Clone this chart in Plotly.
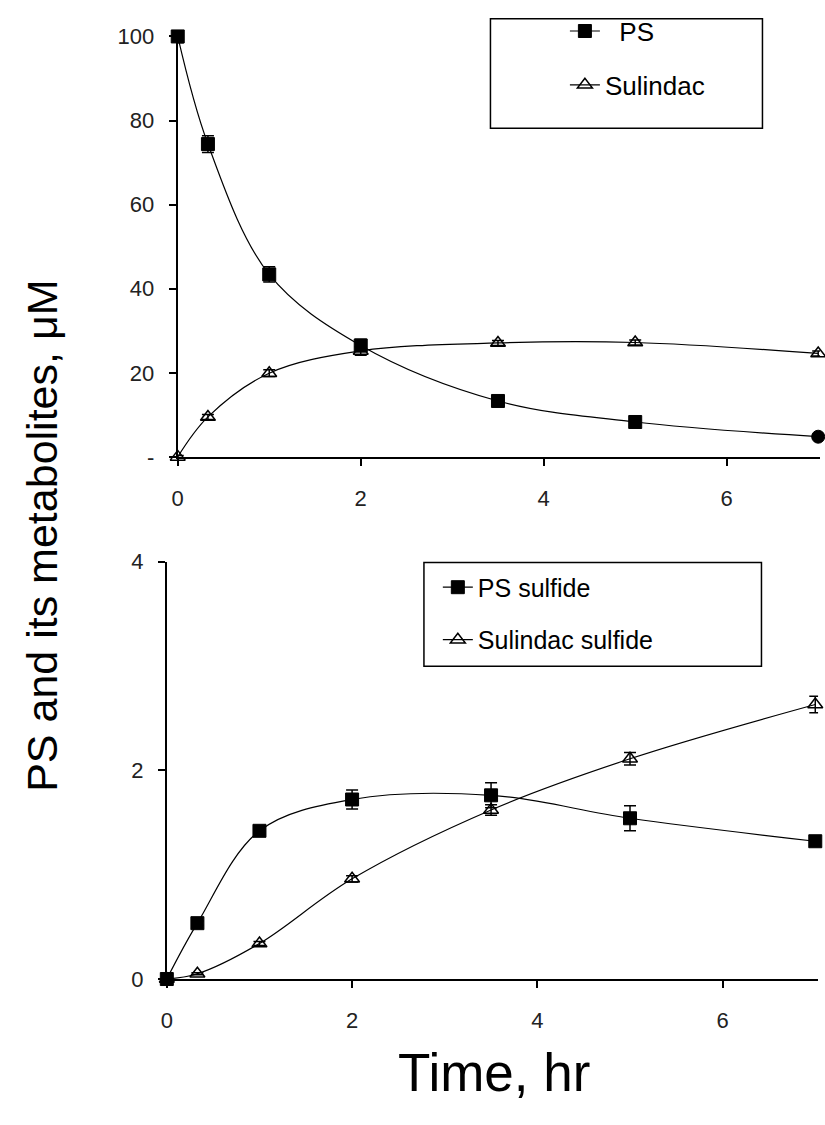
import plotly.graph_objects as go

# Sampling times (hr)
time_hr = [0, 0.33, 1, 2, 3.5, 5, 7]

# Upper panel: parent compound and sulindac (uM)
ps = [100, 74.4, 43.4, 26.5, 13.3, 8.3, 4.8]
ps_err = [1.5, 2.0, 1.8, 1.5, 0.8, 0.6, 0.5]
sulindac = [0, 9.5, 19.9, 25.2, 27.1, 27.2, 24.6]
sulindac_err = [0.3, 0.6, 0.8, 1.0, 0.6, 0.6, 0.6]

# Lower panel: sulfide metabolites (uM)
ps_sulfide = [0, 0.535, 1.42, 1.72, 1.76, 1.54, 1.32]
ps_sulfide_err = [0.02, 0.02, 0.03, 0.09, 0.12, 0.12, 0.03]
sulindac_sulfide = [0, 0.05, 0.34, 0.96, 1.62, 2.11, 2.63]
sulindac_sulfide_err = [0.01, 0.01, 0.02, 0.03, 0.05, 0.06, 0.08]

top_yticks = [0, 20, 40, 60, 80, 100]
top_yticklabels = ["-", "20", "40", "60", "80", "100"]
bottom_yticks = [0, 2, 4]
xticks = [0, 2, 4, 6]

W, H = 825, 1125
FONT = "Arial, Liberation Sans, sans-serif"


def px_x(p):
    return p / W


def px_y(p):
    return 1 - p / H


def err(vals):
    return dict(type="data", array=vals, visible=True, color="black",
                thickness=1.5, width=6)


square = dict(symbol="square", size=13, color="black",
              line=dict(color="black", width=1))
triangle = dict(symbol="triangle-up-open", size=13, color="black",
                line=dict(color="black", width=1.5))
line = dict(color="black", width=1.2, shape="spline", smoothing=1.0)

fig = go.Figure()

fig.add_trace(go.Scatter(
    x=time_hr, y=ps, error_y=err(ps_err), mode="lines+markers",
    name="  PS", line=line,
    marker=dict(square, symbol=["square"] * 6 + ["circle"]),
    xaxis="x", yaxis="y", legend="legend", legendgroup="a", cliponaxis=False))
fig.add_trace(go.Scatter(
    x=time_hr, y=sulindac, error_y=err(sulindac_err), mode="lines+markers",
    name="Sulindac", line=line, marker=triangle,
    xaxis="x", yaxis="y", legend="legend", legendgroup="b", cliponaxis=False))

fig.add_trace(go.Scatter(
    x=time_hr, y=ps_sulfide, error_y=err(ps_sulfide_err), mode="lines+markers",
    name="PS sulfide", line=line, marker=square,
    xaxis="x2", yaxis="y2", legend="legend2", legendgroup="c", cliponaxis=False))
fig.add_trace(go.Scatter(
    x=time_hr, y=sulindac_sulfide, error_y=err(sulindac_sulfide_err),
    mode="lines+markers", name="Sulindac sulfide", line=line, marker=triangle,
    xaxis="x2", yaxis="y2", legend="legend2", legendgroup="d", cliponaxis=False))

axis_common = dict(
    showline=True, linecolor="black", linewidth=2, ticks="outside",
    ticklen=7, tickwidth=2, tickcolor="black", showgrid=False, zeroline=False,
    tickfont=dict(family=FONT, size=22, color="#222"), mirror=False,
)
x_common = dict(axis_common, tickvals=xticks, ticklabelstandoff=14)
y_common = dict(axis_common, ticklabelstandoff=10)

fig.update_layout(
    width=W, height=H, margin=dict(l=0, r=0, t=0, b=0),
    paper_bgcolor="white", plot_bgcolor="white",
    font=dict(family=FONT, color="black"),
    xaxis=dict(x_common, domain=[px_x(173), px_x(820)], range=[0, 7.02],
               anchor="y"),
    yaxis=dict(y_common, domain=[px_y(455), px_y(25)], range=[0, 100],
               tickvals=top_yticks, ticktext=top_yticklabels, anchor="x"),
    xaxis2=dict(x_common, domain=[px_x(162), px_x(818)], range=[0, 7.03],
                anchor="y2"),
    yaxis2=dict(y_common, domain=[px_y(989), px_y(562)], range=[0, 4],
                tickvals=bottom_yticks, anchor="x2"),
    legend=dict(x=px_x(563), y=1.004, xanchor="left", yanchor="top",
                bgcolor="rgba(0,0,0,0)", borderwidth=0,
                font=dict(family=FONT, size=26, color="black"),
                tracegroupgap=17),
    legend2=dict(x=px_x(435), y=px_y(565), xanchor="left", yanchor="top",
                 bgcolor="rgba(0,0,0,0)", borderwidth=0,
                 font=dict(family=FONT, size=25, color="black"),
                 tracegroupgap=17),
    shapes=[
        dict(type="rect", xref="paper", yref="paper",
             x0=px_x(488), x1=px_x(762), y0=px_y(119), y1=px_y(7),
             line=dict(color="black", width=1.5)),
        dict(type="rect", xref="paper", yref="paper",
             x0=px_x(421), x1=px_x(761), y0=px_y(669), y1=px_y(563),
             line=dict(color="black", width=1.5)),
    ],
    annotations=[
        dict(text="PS and its metabolites, \u03bcM", textangle=-90,
             xref="paper", yref="paper", x=px_x(36), y=px_y(536),
             xanchor="center", yanchor="middle", showarrow=False,
             font=dict(family=FONT, size=43, color="black")),
        dict(text="Time, hr", xref="paper", yref="paper",
             x=px_x(492), y=px_y(1085), xanchor="center", yanchor="middle",
             showarrow=False, font=dict(family=FONT, size=53, color="black")),
    ],
)

fig.write_html("out.html")
